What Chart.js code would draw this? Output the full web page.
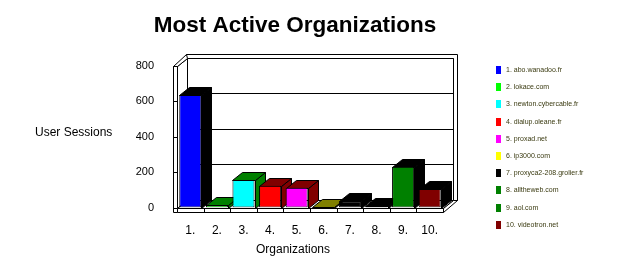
<!DOCTYPE html>
<html>
<head>
<meta charset="utf-8">
<script src="https://cdn.jsdelivr.net/npm/chart.js@4.4.1/dist/chart.umd.min.js"></script>
<style>
  body { margin: 0; background: #fff; }
  canvas { display: block; }
</style>
</head>
<body>
<canvas id="chart" width="639" height="265"></canvas>
<script>
const categories = ["1.", "2.", "3.", "4.", "5.", "6.", "7.", "8.", "9.", "10."];
const organizations = [
  "abo.wanadoo.fr", "lokace.com", "newton.cybercable.fr", "dialup.oleane.fr",
  "proxad.net", "ip3000.com", "proxyca2-208.grolier.fr", "alltheweb.com",
  "aol.com", "videotron.net",
];
const sessions = [636, 14, 155, 123, 112, 1, 35, 7, 231, 105];
const yTicks = [0, 200, 400, 600, 800];

const frontColours = [
  "#0000ff", "#00ff00", "#00ffff", "#ff0000", "#ff00ff",
  "#ffff00", "#000000", "#008000", "#008000", "#800000",
];
const sideColours = [
  "#000000", "#008000", "#008000", "#800000", "#800000",
  "#808000", "#000000", "#000000", "#000000", "#000000",
];

const FONT = "'Liberation Sans', Arial, sans-serif";
const DX = 10; // depth offset
const DY = 8;
const SLAB = 4; // frame thickness

function poly(ctx, pts, fill) {
  ctx.beginPath();
  pts.forEach(([x, y], i) => {
    const px = Math.round(x) + 0.5;
    const py = Math.round(y) + 0.5;
    if (i === 0) ctx.moveTo(px, py);
    else ctx.lineTo(px, py);
  });
  ctx.closePath();
  if (fill) {
    ctx.fillStyle = fill;
    ctx.fill();
  }
  ctx.stroke();
}

function line(ctx, x1, y1, x2, y2) {
  ctx.beginPath();
  ctx.moveTo(Math.round(x1) + 0.5, Math.round(y1) + 0.5);
  ctx.lineTo(Math.round(x2) + 0.5, Math.round(y2) + 0.5);
  ctx.stroke();
}

const frame3d = {
  id: "frame3d",
  beforeDatasetsDraw(chart) {
    const { ctx, chartArea: a, scales } = chart;
    const L = a.left, R = a.right, T = a.top, B = a.bottom;
    ctx.save();
    ctx.lineWidth = 1;
    ctx.strokeStyle = "#000";

    // back wall with its frame
    poly(ctx, [[L + DX - 1, T - DY - SLAB], [R + DX + SLAB, T - DY - SLAB],
      [R + DX + SLAB, B - DY], [L + DX - 1, B - DY]], "#fff");
    poly(ctx, [[L + DX, T - DY], [R + DX, T - DY], [R + DX, B - DY], [L + DX, B - DY]], "#fff");
    yTicks.forEach((v) => {
      const y = scales.y.getPixelForValue(v) - DY;
      line(ctx, L + DX, y, R + DX, y);
    });

    // left wall + its top edge
    poly(ctx, [[L, T], [L + DX, T - DY], [L + DX, B - DY], [L, B]], "#fff");
    poly(ctx, [[L - SLAB, T], [L, T], [L + DX, T - DY], [L + DX - 1, T - DY - SLAB]], "#fff");

    // floor
    poly(ctx, [[L, B], [R, B], [R + DX, B - DY], [L + DX, B - DY]], "#fff");
    poly(ctx, [[R, B], [R + DX, B - DY], [R + DX + SLAB, B - DY], [R, B + SLAB]], "#fff");

    // front slabs
    poly(ctx, [[L - SLAB, T], [L, T], [L, B + SLAB], [L - SLAB, B + SLAB]], "#fff");
    yTicks.forEach((v) => {
      const y = scales.y.getPixelForValue(v);
      line(ctx, L - SLAB, y, L, y);
    });
    poly(ctx, [[L, B], [R, B], [R, B + SLAB], [L, B + SLAB]], "#fff");
    const catW = (R - L) / categories.length;
    for (let i = 1; i < categories.length; i++) {
      line(ctx, L + i * catW, B, L + i * catW, B + SLAB);
    }

    // top and side faces of the bars
    const meta = chart.getDatasetMeta(0);
    meta.data.forEach((bar, i) => {
      const left = bar.x - bar.width / 2;
      const right = bar.x + bar.width / 2;
      const top = bar.y;
      const bottom = bar.base;
      const c = sideColours[i];
      poly(ctx, [[right, top], [right + DX, top - DY], [right + DX, bottom - DY], [right, bottom]], c);
      poly(ctx, [[left, top], [right, top], [right + DX, top - DY], [left + DX, top - DY]], c);
    });
    ctx.restore();
  },
  afterDraw(chart) {
    const { ctx } = chart;
    ctx.save();
    ctx.fillStyle = "#000";
    ctx.textBaseline = "alphabetic";

    ctx.font = "bold 22.5px " + FONT;
    ctx.textAlign = "center";
    ctx.fillText("Most Active Organizations", 295, 32);

    ctx.font = "12px " + FONT;
    ctx.textAlign = "left";
    ctx.fillText("User Sessions", 35, 136);
    ctx.textAlign = "center";
    ctx.fillText("Organizations", 293, 253);

    // legend
    ctx.font = "7px " + FONT;
    ctx.textAlign = "left";
    ctx.textBaseline = "middle";
    categories.forEach((cat, i) => {
      const y = 70 + i * 17.2;
      ctx.fillStyle = frontColours[i];
      ctx.fillRect(496, Math.round(y) - 4, 5, 8);
      ctx.fillStyle = "#3a3a10";
      ctx.fillText(cat + " " + organizations[i], 506, y);
    });
    ctx.restore();
  },
};

Chart.defaults.font.family = FONT;
Chart.defaults.color = "#000";

new Chart(document.getElementById("chart"), {
  type: "bar",
  data: {
    labels: categories,
    datasets: [{
      label: "User Sessions",
      data: sessions,
      backgroundColor: frontColours,
      borderColor: "#000",
      borderWidth: 1,
      borderSkipped: false,
      barPercentage: 0.83,
      categoryPercentage: 1,
    }],
  },
  options: {
    responsive: false,
    animation: false,
    layout: { padding: { top: 66, right: 196, left: 0, bottom: 0 } },
    plugins: {
      legend: { display: false },
      title: { display: false },
      tooltip: { enabled: false },
    },
    scales: {
      x: {
        grid: { display: false },
        border: { display: false },
        ticks: { font: { size: 12 }, padding: 8 },
        afterFit(scale) { scale.height = 57.5; },
      },
      y: {
        min: 0,
        max: 800,
        grid: { display: false },
        border: { display: false },
        ticks: { stepSize: 200, font: { size: 11 }, padding: 15 },
        afterFit(scale) { scale.width = 177; },
      },
    },
  },
  plugins: [frame3d],
});
</script>
</body>
</html>
